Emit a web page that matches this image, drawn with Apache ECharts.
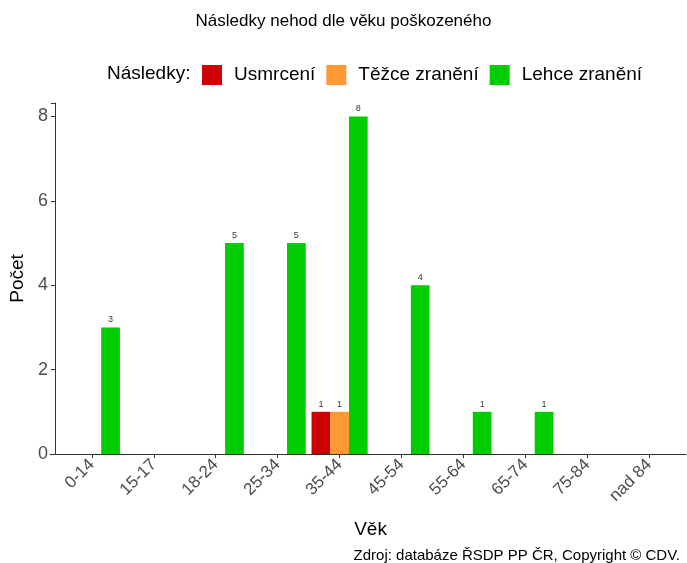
<!DOCTYPE html>
<html>
<head>
<meta charset="utf-8">
<script src="https://cdn.jsdelivr.net/npm/echarts@6/dist/echarts.min.js"></script>
<style>
  html, body { margin: 0; padding: 0; background: #fff; }
  #chart { width: 687px; height: 563px; }
</style>
</head>
<body>
<div id="chart"></div>
<script>
// věkové kategorie
const categories = ['0-14', '15-17', '18-24', '25-34', '35-44', '45-54', '55-64', '65-74', '75-84', 'nad 84']
const usmrceni = [null, null, null, null, 1, null, null, null, null, null]
const tezce = [null, null, null, null, 1, null, null, null, null, null]
const lehce = [3, null, 5, 5, 8, 4, 1, 1, null, null]
const yTicks = [0, 2, 4, 6, 8]

const font = 'Liberation Sans, Arial, sans-serif'
const labelStyle = {
    show: true,
    position: 'top',
    distance: 3,
    fontSize: 9,
    fontFamily: font,
    color: '#333'
}

let mkSerie = (name, data, color) => {
    return {
        name: name,
        type: 'bar',
        data: data,
        barWidth: 18.7,
        barGap: 0,
        itemStyle: { color: color },
        label: labelStyle
    }
}

let chart = echarts.init(document.getElementById('chart'))
let options = {
    animation: false,
    textStyle: { fontFamily: font },
    title: [
        {
            text: 'Následky nehod dle věku poškozeného',
            left: 'center',
            top: 8,
            textStyle: { fontSize: 17, fontWeight: 'normal', color: '#000', fontFamily: font }
        },
        {
            text: 'Následky:',
            left: 102,
            top: 59,
            textStyle: { fontSize: 19, fontWeight: 'normal', color: '#000', fontFamily: font }
        },
        {
            text: 'Zdroj: databáze ŘSDP PP ČR, Copyright © CDV.',
            right: 2,
            top: 543,
            textStyle: { fontSize: 15, fontWeight: 'normal', color: '#000', fontFamily: font }
        }
    ],
    legend: {
        left: 197,
        top: 60,
        icon: 'rect',
        itemWidth: 20,
        itemHeight: 20,
        itemGap: 11,
        textStyle: { fontSize: 19, color: '#000', fontFamily: font, padding: [0, 0, 0, 7] },
        data: ['Usmrcení', 'Těžce zranění', 'Lehce zranění']
    },
    grid: [
        { left: 56.2, width: 624, top: 103, height: 351 },
        { left: 50, width: 636, top: 103, height: 351 }
    ],
    xAxis: [
        {
            type: 'category',
            data: categories,
            gridIndex: 0,
            name: 'Věk',
            nameLocation: 'middle',
            nameGap: 66,
            nameTextStyle: { fontSize: 19, color: '#000', fontFamily: font },
            axisLine: { show: false },
            axisTick: { show: true, alignWithLabel: true, length: 4, lineStyle: { color: '#333' } },
            axisLabel: { rotate: 45, fontSize: 17, color: '#4d4d4d', margin: 8, interval: 0, fontFamily: font }
        },
        {
            type: 'value',
            gridIndex: 1,
            min: 0,
            max: 1,
            axisLine: { show: true, lineStyle: { color: '#333', width: 1 } },
            axisTick: { show: false },
            axisLabel: { show: false },
            splitLine: { show: false }
        }
    ],
    yAxis: [
        {
            type: 'value',
            gridIndex: 0,
            min: 0,
            max: 8.32,
            interval: 2,
            offset: 6,
            name: 'Počet',
            nameLocation: 'middle',
            nameGap: 26,
            nameTextStyle: { fontSize: 19, color: '#000', fontFamily: font },
            axisLine: { show: true, lineStyle: { color: '#333', width: 1 } },
            axisTick: { show: true, length: 4, lineStyle: { color: '#333' } },
            axisLabel: {
                fontSize: 18,
                color: '#4d4d4d',
                margin: 7,
                fontFamily: font,
                formatter: (v) => yTicks.includes(v) ? String(v) : ''
            },
            splitLine: { show: false }
        },
        { type: 'value', gridIndex: 1, show: false }
    ],
    series: [
        mkSerie('Usmrcení', usmrceni, '#CC0000'),
        mkSerie('Těžce zranění', tezce, '#FF9933'),
        mkSerie('Lehce zranění', lehce, '#00CC00')
    ]
}
chart.setOption(options)
</script>
</body>
</html>
